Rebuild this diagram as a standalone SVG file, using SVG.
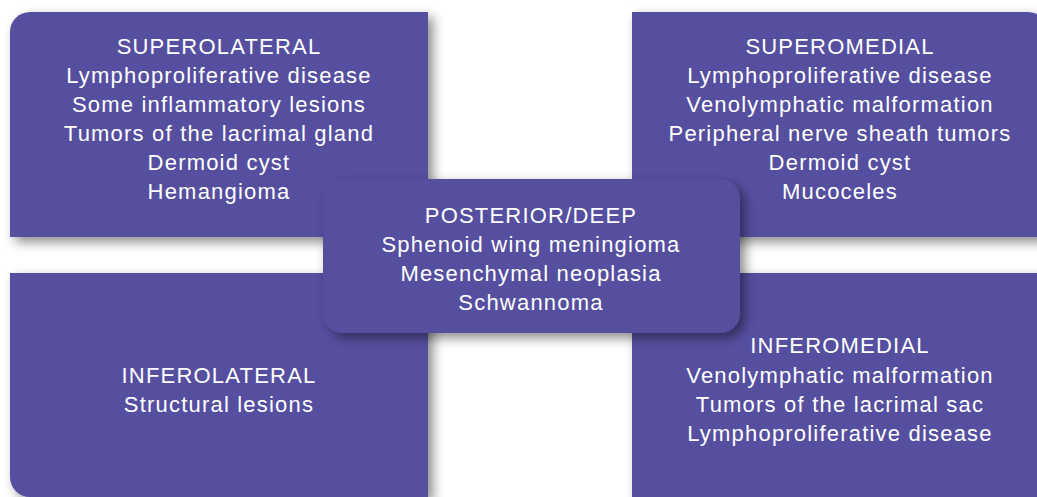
<svg xmlns="http://www.w3.org/2000/svg" width="1037" height="497" viewBox="0 0 1037 497">
<defs>
<filter id="sh" x="-10%" y="-10%" width="125%" height="130%">
<feDropShadow dx="5" dy="5" stdDeviation="6" flood-color="#000" flood-opacity="0.45"/>
</filter>
<style>
.box{fill:#5650a0;filter:url(#sh)}
.t{fill:#fff;font-family:"Liberation Sans",Arial,sans-serif;font-size:22px;letter-spacing:1.2px;text-anchor:middle}
</style>
</defs>
<rect width="1037" height="497" fill="#fff"/>
<g id="superolateral">
<path class="box" d="M10,32 A20,20 0 0 1 30,12 H428 V237 H10 Z"/>
<text class="t" x="219" y="54">SUPEROLATERAL</text>
<text class="t" x="219" y="83">Lymphoproliferative disease</text>
<text class="t" x="219" y="112">Some inflammatory lesions</text>
<text class="t" x="219" y="141">Tumors of the lacrimal gland</text>
<text class="t" x="219" y="170">Dermoid cyst</text>
<text class="t" x="219" y="199">Hemangioma</text>
</g>
<g id="superomedial">
<path class="box" d="M632,12 H1028 A20,20 0 0 1 1048,32 V237 H632 Z"/>
<text class="t" x="840" y="54">SUPEROMEDIAL</text>
<text class="t" x="840" y="83">Lymphoproliferative disease</text>
<text class="t" x="840" y="112">Venolymphatic malformation</text>
<text class="t" x="840" y="141">Peripheral nerve sheath tumors</text>
<text class="t" x="840" y="170">Dermoid cyst</text>
<text class="t" x="840" y="199">Mucoceles</text>
</g>
<g id="inferolateral">
<path class="box" d="M10,273 H428 V497 H30 A20,20 0 0 1 10,477 Z"/>
<text class="t" x="219" y="383">INFEROLATERAL</text>
<text class="t" x="219" y="412">Structural lesions</text>
</g>
<g id="inferomedial">
<path class="box" d="M632,273 H1048 V510 H632 Z"/>
<text class="t" x="840" y="353">INFEROMEDIAL</text>
<text class="t" x="840" y="383">Venolymphatic malformation</text>
<text class="t" x="840" y="412">Tumors of the lacrimal sac</text>
<text class="t" x="840" y="441">Lymphoproliferative disease</text>
</g>
<g id="posterior-deep">
<rect class="box" x="323" y="179" width="417" height="154" rx="20"/>
<text class="t" x="531" y="223">POSTERIOR/DEEP</text>
<text class="t" x="531" y="252">Sphenoid wing meningioma</text>
<text class="t" x="531" y="281">Mesenchymal neoplasia</text>
<text class="t" x="531" y="310">Schwannoma</text>
</g>
<g id="connectors"/>
</svg>
